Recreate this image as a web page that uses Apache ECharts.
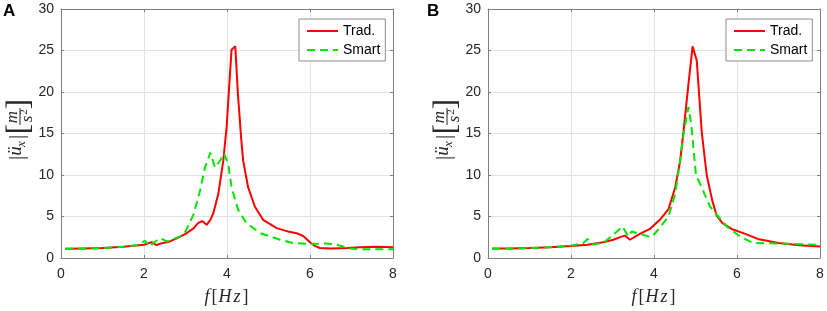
<!DOCTYPE html>
<html>
<head>
<meta charset="utf-8">
<script src="https://cdn.jsdelivr.net/npm/echarts@6/dist/echarts.min.js"></script>
<style>
  html, body { margin: 0; padding: 0; background: #fff; }
  #chart { width: 827px; height: 311px; }
</style>
</head>
<body>
<div id="chart"></div>
<script>
// panel A
const freqTradA = [0.1, 0.5, 1.0, 1.5, 2.0, 2.18, 2.3, 2.4, 2.6, 2.8, 3.0, 3.2, 3.3, 3.4, 3.51, 3.6, 3.67, 3.79, 3.91, 3.99, 4.05, 4.11, 4.2, 4.26, 4.34, 4.39, 4.51, 4.67, 4.87, 5.2, 5.5, 5.7, 5.85, 6.0, 6.1, 6.24, 6.5, 6.9, 7.2, 7.6, 8.0];
const tradA = [1.1, 1.15, 1.2, 1.35, 1.6, 1.9, 1.55, 1.75, 1.95, 2.4, 2.9, 3.6, 4.2, 4.45, 4.0, 4.6, 5.4, 7.7, 11.7, 15.7, 20.5, 25.1, 25.5, 20.0, 14.5, 11.7, 8.5, 6.2, 4.6, 3.6, 3.15, 2.95, 2.6, 1.9, 1.5, 1.2, 1.15, 1.2, 1.3, 1.35, 1.3];
const freqSmartA = [0.1, 0.5, 1.0, 1.5, 1.9, 2.02, 2.14, 2.25, 2.39, 2.55, 2.87, 3.0, 3.19, 3.35, 3.47, 3.6, 3.71, 3.83, 3.93, 4.03, 4.11, 4.27, 4.47, 4.8, 5.28, 5.6, 6.0, 6.4, 6.64, 6.96, 7.3, 8.0];
const smartA = [1.1, 1.1, 1.2, 1.35, 1.6, 2.1, 1.4, 1.9, 2.4, 2.0, 2.6, 3.2, 5.2, 8.1, 10.9, 12.7, 10.9, 11.7, 12.6, 11.3, 8.5, 5.8, 4.2, 3.0, 2.2, 1.8, 1.7, 1.75, 1.6, 1.15, 1.05, 1.05];

// panel B
const freqTradB = [0.1, 0.5, 1.0, 1.5, 2.0, 2.4, 2.78, 3.02, 3.2, 3.3, 3.42, 3.66, 3.9, 4.14, 4.35, 4.51, 4.63, 4.71, 4.82, 4.93, 5.03, 5.15, 5.27, 5.4, 5.51, 5.65, 5.87, 6.2, 6.5, 7.0, 7.5, 8.0];
const tradB = [1.15, 1.15, 1.2, 1.3, 1.45, 1.6, 1.9, 2.2, 2.55, 2.7, 2.2, 2.9, 3.5, 4.6, 5.9, 8.5, 11.7, 15.2, 20.5, 25.5, 23.8, 15.2, 10.0, 7.0, 5.1, 4.2, 3.5, 2.9, 2.3, 1.8, 1.55, 1.4];
const freqSmartB = [0.1, 0.5, 1.0, 1.5, 2.0, 2.3, 2.4, 2.54, 2.8, 3.02, 3.24, 3.38, 3.46, 3.66, 3.94, 4.1, 4.35, 4.51, 4.63, 4.71, 4.83, 4.9, 5.01, 5.15, 5.35, 5.55, 5.75, 6.07, 6.39, 7.04, 7.9, 8.0];
const smartB = [1.1, 1.1, 1.2, 1.3, 1.5, 1.8, 2.3, 1.6, 1.9, 2.8, 3.8, 2.6, 3.2, 2.9, 2.5, 3.4, 5.0, 7.7, 11.7, 14.9, 18.2, 16.0, 10.0, 8.5, 6.2, 5.0, 3.8, 2.6, 1.8, 1.75, 1.6, 2.0];

const seriesNames = ['Trad.', 'Smart'];
const xTicks = { min: 0, max: 8, interval: 2 };
const yTicks = { min: 0, max: 30, interval: 5 };
const panelLabels = ['A', 'B'];

function pairs(f, v) {
  return f.map((x, i) => [x, v[i]]);
}

const chart = echarts.init(document.getElementById('chart'), null, { renderer: 'canvas' });

const axisColor = '#7f7f7f';
const textColor = '#262626';
const gridLeft = [61, 488];

function mainX(i) {
  return {
    gridIndex: i, type: 'value', position: 'bottom',
    min: xTicks.min, max: xTicks.max, interval: xTicks.interval,
    name: '{i|f}{b|[}{h|H}{i|z}{b|]}', nameLocation: 'middle', nameGap: 30,
    nameTextStyle: {
      rich: {
        i: { fontFamily: 'Liberation Serif', fontStyle: 'italic', fontSize: 18, color: textColor },
        h: { fontFamily: 'Liberation Serif', fontStyle: 'italic', fontSize: 18, color: textColor, padding: [0, 2, 0, 0] },
        b: { fontFamily: 'Liberation Serif', fontSize: 18, color: textColor, padding: [0, 1, 0, 2] }
      }
    },
    axisLine: { show: true, onZero: false, lineStyle: { color: axisColor, width: 1 } },
    axisTick: { show: true, inside: true, length: 3, lineStyle: { color: axisColor } },
    axisLabel: { color: textColor, fontSize: 14, fontFamily: 'Liberation Sans', margin: 9 },
    splitLine: { show: true, lineStyle: { color: '#e3e3e3', width: 1 } }
  };
}
function topX(i) {
  return {
    gridIndex: i, type: 'value', position: 'top',
    min: xTicks.min, max: xTicks.max, interval: xTicks.interval,
    axisLine: { show: true, onZero: false, lineStyle: { color: axisColor, width: 1 } },
    axisTick: { show: true, inside: true, length: 3, lineStyle: { color: axisColor } },
    axisLabel: { show: false }, splitLine: { show: false }
  };
}
function mainY(i) {
  return {
    gridIndex: i, type: 'value', position: 'left',
    min: yTicks.min, max: yTicks.max, interval: yTicks.interval,
    axisLine: { show: true, onZero: false, lineStyle: { color: axisColor, width: 1 } },
    axisTick: { show: true, inside: true, length: 3, lineStyle: { color: axisColor } },
    axisLabel: { color: textColor, fontSize: 14, fontFamily: 'Liberation Sans', margin: 7 },
    splitLine: { show: true, lineStyle: { color: '#e3e3e3', width: 1 } }
  };
}
function rightY(i) {
  return {
    gridIndex: i, type: 'value', position: 'right',
    min: yTicks.min, max: yTicks.max, interval: yTicks.interval,
    axisLine: { show: true, onZero: false, lineStyle: { color: axisColor, width: 1 } },
    axisTick: { show: true, inside: true, length: 3, lineStyle: { color: axisColor } },
    axisLabel: { show: false }, splitLine: { show: false }
  };
}

function legendAt(left) {
  return {
    data: seriesNames, orient: 'vertical', left: left, top: 19,
    padding: [5, 5, 4, 7], itemGap: 5, itemWidth: 31, itemHeight: 14,
    itemStyle: { opacity: 0 },
    borderColor: '#8c8c8c', borderWidth: 1, backgroundColor: '#fff',
    textStyle: { fontSize: 14, color: '#000', fontFamily: 'Liberation Sans' }
  };
}

function lineSeries(name, axis, data, color, dashed) {
  return {
    name: name, type: 'line', xAxisIndex: axis * 2, yAxisIndex: axis * 2,
    data: data, symbol: 'none', smooth: false,
    lineStyle: { color: color, width: 2, type: dashed ? [8, 5] : 'solid' },
    itemStyle: { color: color }
  };
}

// y axis label |ü_x| [m/s^2], drawn rotated
function yLabel(cx) {
  const serif = 'Liberation Serif';
  const t = (text, x, y, size, italic) => ({
    type: 'text', x: x, y: y,
    style: {
      text: text, fill: textColor, align: 'center', verticalAlign: 'middle',
      font: (italic ? 'italic ' : '') + size + 'px "' + serif + '"'
    }
  });
  return {
    type: 'group', x: cx, y: 131, rotation: Math.PI / 2,
    children: [
      t('|', -27, -3, 21, false),
      t('\u00fc', -20, -4, 19, true),
      t('x', -13, 2, 13, true),
      t('|', -6, -3, 21, false),
      t('[', 2, 0, 31, false),
      t('m', 14, -7, 17, true),
      { type: 'line', shape: { x1: 6, y1: 0, x2: 23, y2: 0 }, style: { stroke: textColor, lineWidth: 1 } },
      t('s', 12, 8, 17, true),
      t('2', 19, 4, 11, false),
      t(']', 27, 0, 31, false)
    ]
  };
}

const option = {
  animation: false,
  backgroundColor: '#fff',
  grid: [
    { left: gridLeft[0], top: 9, width: 332, height: 253 },
    { left: gridLeft[1], top: 9, width: 332, height: 253 }
  ],
  xAxis: [mainX(0), topX(0), mainX(1), topX(1)],
  yAxis: [mainY(0), rightY(0), mainY(1), rightY(1)],
  legend: [legendAt(299), legendAt(726)],
  graphic: [
    { type: 'text', x: 3, y: 3, style: { text: panelLabels[0], font: 'bold 17px "Liberation Sans"', fill: '#000' } },
    { type: 'text', x: 427, y: 3, style: { text: panelLabels[1], font: 'bold 17px "Liberation Sans"', fill: '#000' } },
    yLabel(20),
    yLabel(447)
  ],
  series: [
    lineSeries(seriesNames[0], 0, pairs(freqTradA, tradA), '#ff0000', false),
    lineSeries(seriesNames[1], 0, pairs(freqSmartA, smartA), '#00e600', true),
    lineSeries(seriesNames[0], 1, pairs(freqTradB, tradB), '#ff0000', false),
    lineSeries(seriesNames[1], 1, pairs(freqSmartB, smartB), '#00e600', true)
  ]
};

chart.setOption(option);
</script>
</body>
</html>
